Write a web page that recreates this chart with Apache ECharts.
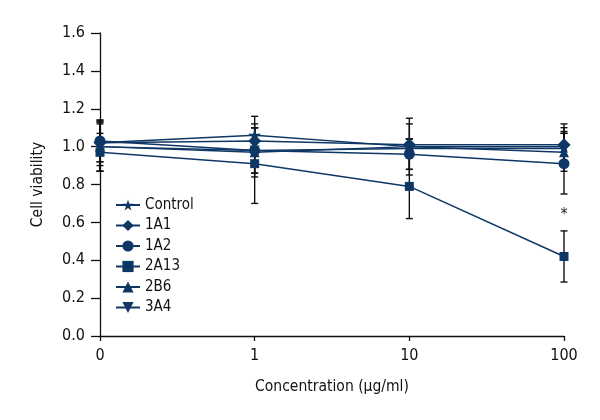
<!DOCTYPE html>
<html>
<head>
<meta charset="utf-8">
<script src="https://cdn.jsdelivr.net/npm/echarts@6/dist/echarts.min.js"></script>
<style>
html,body{margin:0;padding:0;background:#fff;}
#chart{width:600px;height:420px;}
</style>
</head>
<body>
<div id="chart"></div>
<script>
// ---- data ----
const categories = ['0', '1', '10', '100'];
const yTicks = [0.0, 0.2, 0.4, 0.6, 0.8, 1.0, 1.2, 1.4, 1.6];

const seriesNames = ['Control', '1A1', '1A2', '2A13', '2B6', '3A4'];

const controlMean = [1.02, 1.06, 1.00, 1.00];
const controlSD   = [0.12, 0.10, 0.15, 0.10];
const a1Mean = [1.02, 1.03, 1.01, 1.01];
const a1SD   = [0.10, 0.07, 0.03, 0.11];
const a2Mean = [1.03, 0.98, 0.96, 0.91];
const a2SD   = [0.11, 0.12, 0.08, 0.16];
const a13Mean = [0.97, 0.91, 0.79, 0.42];
const a13SD   = [0.10, 0.21, 0.17, 0.135];
const b6Mean = [1.00, 0.97, 1.00, 0.97];
const b6SD   = [0.13, 0.13, 0.12, 0.10];
const a4Mean = [1.00, 0.98, 0.99, 0.99];
const a4SD   = [0.13, 0.12, 0.05, 0.09];

const a13Significance = ['', '', '', '*'];

// ---- styling ----
const FONT = '"Liberation Sans Narrow", "DejaVu Sans Condensed", "Noto Sans", sans-serif';
const NAVY = '#0e3766';
const STAR = 'path://M50,0 L61,35 L98,35 L68,57 L79,91 L50,70 L21,91 L32,57 L2,35 L39,35 Z';

const groups = [
  {name: seriesNames[0], mean: controlMean, sd: controlSD, symbol: STAR, size: 13, rot: 0, sig: null},
  {name: seriesNames[1], mean: a1Mean, sd: a1SD, symbol: 'diamond', size: 13, rot: 0, sig: null},
  {name: seriesNames[2], mean: a2Mean, sd: a2SD, symbol: 'circle', size: 11, rot: 0, sig: null},
  {name: seriesNames[3], mean: a13Mean, sd: a13SD, symbol: 'rect', size: 9, rot: 0, sig: a13Significance},
  {name: seriesNames[4], mean: b6Mean, sd: b6SD, symbol: 'triangle', size: 10, rot: 0, sig: null},
  {name: seriesNames[5], mean: a4Mean, sd: a4SD, symbol: 'triangle', size: 10, rot: 180, sig: null}
];

const series = [];
groups.forEach(g => {
  const sig = g.sig;
  series.push({
    type: 'custom',
    name: g.name + ' err',
    z: 2,
    silent: true,
    data: categories.map((c, i) => [i, g.mean[i] - g.sd[i], g.mean[i] + g.sd[i]]),
    renderItem: function (params, api) {
      const x = api.value(0);
      const pHi = api.coord([x, api.value(2)]);
      const pLo = api.coord([x, api.value(1)]);
      const w = 3.5;
      const st = {stroke: '#111', lineWidth: 1.4};
      const children = [
        {type: 'line', shape: {x1: pHi[0], y1: pHi[1], x2: pLo[0], y2: pLo[1]}, style: st},
        {type: 'line', shape: {x1: pHi[0] - w, y1: pHi[1], x2: pHi[0] + w, y2: pHi[1]}, style: st},
        {type: 'line', shape: {x1: pLo[0] - w, y1: pLo[1], x2: pLo[0] + w, y2: pLo[1]}, style: st}
      ];
      if (sig && sig[params.dataIndex]) {
        children.push({type: 'text', x: pHi[0], y: pHi[1] - 8,
          style: {text: sig[params.dataIndex], fill: '#222', font: '16px ' + FONT, align: 'center', verticalAlign: 'bottom'}});
      }
      return {type: 'group', children: children};
    }
  });
});
groups.forEach(g => {
  series.push({
    type: 'line',
    name: g.name,
    z: 3,
    data: g.mean,
    symbol: g.symbol,
    symbolSize: g.size,
    symbolRotate: g.rot,
    showAllSymbol: true,
    lineStyle: {color: NAVY, width: 1.5},
    itemStyle: {color: NAVY},
    emphasis: {disabled: true}
  });
});

const chart = echarts.init(document.getElementById('chart'));
chart.setOption({
  animation: false,
  backgroundColor: '#fff',
  grid: {left: 100, right: 36, top: 33, bottom: 84, containLabel: false},
  legend: {
    data: seriesNames,
    orient: 'vertical',
    left: 115,
    top: 197.5,
    padding: 0,
    itemWidth: 24,
    itemHeight: 14,
    itemGap: 5.5,
    textStyle: {fontFamily: FONT, fontSize: 15, color: '#111'},
    selectedMode: false
  },
  xAxis: {
    type: 'category',
    data: categories,
    boundaryGap: false,
    name: 'Concentration (μg/ml)',
    nameLocation: 'middle',
    nameGap: 43,
    nameTextStyle: {fontFamily: FONT, fontSize: 15.5, color: '#111'},
    axisLine: {lineStyle: {color: '#111', width: 1.3}},
    axisTick: {show: true, length: 5, alignWithLabel: true, lineStyle: {color: '#111', width: 1.3}},
    axisLabel: {fontFamily: FONT, fontSize: 16, color: '#111', margin: 12},
    splitLine: {show: false}
  },
  yAxis: {
    type: 'value',
    min: yTicks[0],
    max: yTicks[yTicks.length - 1],
    interval: 0.2,
    name: 'Cell viability',
    nameLocation: 'middle',
    nameGap: 54,
    nameRotate: 90,
    nameTextStyle: {fontFamily: FONT, fontSize: 15.5, color: '#111'},
    axisLine: {show: true, lineStyle: {color: '#111', width: 1.3}},
    axisTick: {show: true, length: 9, lineStyle: {color: '#111', width: 1.3}},
    axisLabel: {fontFamily: FONT, fontSize: 16, color: '#111', margin: 15, formatter: v => v.toFixed(1)},
    splitLine: {show: false}
  },
  series: series
});
</script>
</body>
</html>
